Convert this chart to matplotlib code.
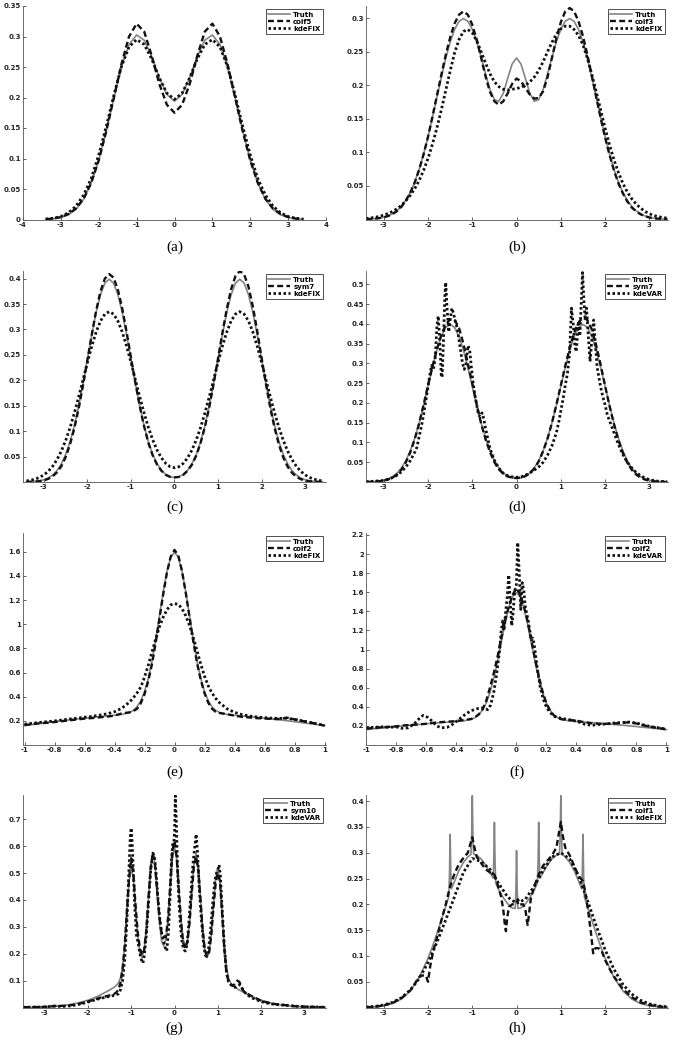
import numpy as np
import matplotlib
matplotlib.use('Agg')
import matplotlib.pyplot as plt
from matplotlib.ticker import FormatStrFormatter


def mirror_y(half):
    # half starts at x=0, the density is symmetric
    return list(half[:0:-1]) + list(half)


def mirror_x(half):
    return [-v for v in half[:0:-1]] + list(half)


# ---------------- (a) ----------------
x_half_a = [0.0, 0.2, 0.4, 0.6, 0.8, 1.0, 1.2, 1.4, 1.6, 1.8, 2.0, 2.2, 2.4, 2.6, 2.8, 3.0, 3.2, 3.4]
truth_half_a = [0.194, 0.205, 0.2325, 0.267, 0.294, 0.3025, 0.287, 0.250, 0.1997, 0.1456,
                0.0972, 0.0593, 0.033, 0.0168, 0.0078, 0.0033, 0.0013, 0.0005]
coif5_half_a = [0.175, 0.188, 0.222, 0.268, 0.308, 0.321, 0.300, 0.255, 0.200, 0.145,
                0.097, 0.060, 0.034, 0.018, 0.009, 0.004, 0.0015, 0.0005]
kdefix_half_a = [0.197, 0.207, 0.232, 0.263, 0.287, 0.295, 0.283, 0.251, 0.204, 0.153,
                 0.106, 0.067, 0.040, 0.022, 0.011, 0.005, 0.002, 0.0008]

# ---------------- (b) ----------------
x_b = [round(v, 1) for v in np.arange(-3.4, 3.45, 0.1)]
truth_half_b = [0.2406, 0.2316, 0.2102, 0.1879, 0.1760, 0.1785, 0.1938, 0.2166, 0.2418, 0.2650,
                0.2834, 0.2953, 0.2993, 0.2951, 0.2830, 0.2641, 0.2396, 0.2114, 0.1815, 0.1515,
                0.1230, 0.0971, 0.0746, 0.0557, 0.0405, 0.0286, 0.0197, 0.0131, 0.0086, 0.0053,
                0.0033, 0.0020, 0.0012, 0.0007, 0.0004]
coif3_b = [0.0005, 0.0008, 0.0013, 0.0021, 0.0033, 0.0052, 0.0082, 0.0125, 0.019, 0.028,
           0.040, 0.055, 0.074, 0.097, 0.123, 0.153, 0.184, 0.215, 0.245, 0.271,
           0.292, 0.305, 0.310, 0.305, 0.290, 0.268, 0.241, 0.213, 0.190, 0.176,
           0.171, 0.176, 0.188, 0.202,
           0.210,
           0.206, 0.196, 0.186, 0.180, 0.181, 0.191, 0.212, 0.241, 0.270, 0.294,
           0.310, 0.315, 0.310, 0.295, 0.273, 0.245, 0.214, 0.182, 0.151, 0.122,
           0.096, 0.073, 0.054, 0.039, 0.027, 0.018, 0.012, 0.0078, 0.0049, 0.003,
           0.0019, 0.0012, 0.0007, 0.0004]
kdefix_b = [0.0015, 0.0022, 0.0032, 0.0046, 0.0065, 0.009, 0.012, 0.016, 0.021, 0.028,
            0.036, 0.046, 0.058, 0.073, 0.091, 0.112, 0.136, 0.163, 0.192, 0.221,
            0.248, 0.268, 0.280, 0.283, 0.278, 0.266, 0.250, 0.233, 0.217, 0.205,
            0.198, 0.194, 0.193, 0.194,
            0.195,
            0.197, 0.200, 0.205, 0.212, 0.222, 0.235, 0.250, 0.264, 0.276, 0.284,
            0.288, 0.288, 0.283, 0.274, 0.260, 0.240, 0.216, 0.190, 0.163, 0.136,
            0.111, 0.089, 0.070, 0.054, 0.041, 0.031, 0.023, 0.017, 0.012, 0.0085,
            0.006, 0.0042, 0.003, 0.002]

# ---------------- (c) / (d) ----------------
x_c = x_b
truth_half_c = [0.0089, 0.0103, 0.0148, 0.0230, 0.0358, 0.0541, 0.0790, 0.1109, 0.1497, 0.1942,
                0.2419, 0.2897, 0.3333, 0.3683, 0.3910, 0.3989, 0.3910, 0.3683, 0.3333, 0.2897,
                0.2419, 0.1942, 0.1497, 0.1109, 0.0790, 0.0540, 0.0355, 0.0224, 0.0136, 0.0079,
                0.0044, 0.0024, 0.0012, 0.0006, 0.0003]
sym7_c = [0.0002, 0.0004, 0.0008, 0.0016, 0.0032, 0.0062, 0.011, 0.019, 0.031, 0.049,
          0.074, 0.106, 0.145, 0.191, 0.240, 0.290, 0.337, 0.375, 0.400, 0.409,
          0.402, 0.378, 0.341, 0.295, 0.245, 0.196, 0.150, 0.110, 0.077, 0.052,
          0.034, 0.022, 0.014, 0.010,
          0.009,
          0.010, 0.014, 0.022, 0.034, 0.052, 0.077, 0.109, 0.148, 0.194, 0.243,
          0.293, 0.340, 0.379, 0.405, 0.415, 0.408, 0.384, 0.345, 0.297, 0.244,
          0.193, 0.146, 0.106, 0.073, 0.048, 0.030, 0.018, 0.010, 0.0056, 0.003,
          0.0015, 0.0007, 0.0003, 0.0001]
kdefix_half_c = [0.0280, 0.0300, 0.0365, 0.0474, 0.0627, 0.0828, 0.1074, 0.1361, 0.1679, 0.2016,
                 0.2354, 0.2673, 0.2950, 0.3166, 0.3303, 0.3350, 0.3303, 0.3166, 0.2950, 0.2673,
                 0.2354, 0.2015, 0.1677, 0.1357, 0.1067, 0.0816, 0.0607, 0.0439, 0.0308, 0.0210,
                 0.0140, 0.0090, 0.0057, 0.0035, 0.0020]
sym7_d = [0.0002, 0.0005, 0.001, 0.002, 0.0035, 0.0065, 0.011, 0.019, 0.031, 0.050,
          0.075, 0.108, 0.148, 0.195, 0.245, 0.292, 0.335, 0.372, 0.398, 0.412,
          0.410, 0.390, 0.350, 0.300, 0.250, 0.196, 0.148, 0.108, 0.076, 0.050,
          0.032, 0.021, 0.014, 0.011,
          0.010,
          0.011, 0.015, 0.022, 0.034, 0.052, 0.078, 0.110, 0.150, 0.196, 0.245,
          0.294, 0.340, 0.378, 0.404, 0.416, 0.410, 0.386, 0.345, 0.296, 0.243,
          0.192, 0.146, 0.106, 0.074, 0.049, 0.031, 0.019, 0.011, 0.0062, 0.0034,
          0.0017, 0.0008, 0.0004, 0.0002]
x_kdevar_d = [-3.4, -3.2, -3.0, -2.9, -2.8, -2.7, -2.6, -2.5, -2.4, -2.3, -2.25, -2.2, -2.15, -2.1,
              -2.05, -2.0, -1.96, -1.92, -1.88, -1.84, -1.8, -1.77, -1.74, -1.7, -1.68, -1.65,
              -1.62, -1.6, -1.57, -1.53, -1.5, -1.46, -1.42, -1.38, -1.34, -1.3, -1.26, -1.22,
              -1.18, -1.14, -1.1, -1.06, -1.02, -0.98, -0.94, -0.9, -0.86, -0.82, -0.78, -0.74,
              -0.7, -0.65, -0.6, -0.5, -0.4, -0.3, -0.2, -0.1, 0.0, 0.1, 0.2, 0.3, 0.4, 0.5,
              0.6, 0.7, 0.8, 0.9, 0.95, 1.0, 1.05, 1.1, 1.15, 1.2, 1.24, 1.28, 1.32, 1.35,
              1.39, 1.43, 1.46, 1.49, 1.52, 1.55, 1.58, 1.62, 1.66, 1.7, 1.74, 1.78, 1.82,
              1.86, 1.9, 1.95, 2.0, 2.05, 2.1, 2.15, 2.2, 2.3, 2.4, 2.5, 2.6, 2.7, 2.8, 2.9,
              3.0, 3.2, 3.4]
kdevar_d = [0.001, 0.002, 0.004, 0.007, 0.011, 0.017, 0.026, 0.038, 0.054, 0.075, 0.088, 0.115,
            0.14, 0.17, 0.205, 0.24, 0.27, 0.295, 0.285, 0.31, 0.39, 0.42, 0.37, 0.27, 0.265,
            0.36, 0.47, 0.505, 0.44, 0.38, 0.41, 0.44, 0.425, 0.405, 0.39, 0.36, 0.33, 0.30,
            0.285, 0.30, 0.345, 0.335, 0.29, 0.25, 0.22, 0.195, 0.17, 0.165, 0.175, 0.16,
            0.135, 0.11, 0.085, 0.055, 0.035, 0.022, 0.016, 0.013, 0.012, 0.013, 0.017, 0.023,
            0.030, 0.038, 0.05, 0.068, 0.092, 0.125, 0.15, 0.18, 0.21, 0.245, 0.275, 0.33,
            0.44, 0.40, 0.34, 0.33, 0.40, 0.37, 0.45, 0.53, 0.46, 0.41, 0.44, 0.37, 0.305,
            0.36, 0.41, 0.35, 0.29, 0.265, 0.24, 0.215, 0.195, 0.17, 0.155, 0.14, 0.125,
            0.095, 0.07, 0.05, 0.036, 0.024, 0.016, 0.01, 0.006, 0.002, 0.001]

# ---------------- (e) / (f) ----------------
x_half_e = [0.0, 0.025, 0.05, 0.075, 0.1, 0.125, 0.15, 0.175, 0.2, 0.225, 0.25, 0.275, 0.3,
            0.35, 0.4, 0.45, 0.5, 0.55, 0.6, 0.65, 0.7, 0.75, 0.8, 0.85, 0.9, 0.95, 1.0]
truth_half_e = [1.596, 1.555, 1.439, 1.269, 1.071, 0.873, 0.695, 0.550, 0.441, 0.365, 0.316,
                0.286, 0.269, 0.253, 0.246, 0.240, 0.235, 0.229, 0.222, 0.215, 0.208, 0.201,
                0.193, 0.185, 0.177, 0.169, 0.161]
coif2_e = [0.165, 0.172, 0.180, 0.184, 0.190, 0.197, 0.204, 0.212, 0.218, 0.223, 0.229, 0.235,
           0.243, 0.262, 0.270, 0.280, 0.300, 0.345, 0.42, 0.53, 0.67, 0.85, 1.05, 1.25, 1.43,
           1.56,
           1.615,
           1.57, 1.44, 1.26, 1.06, 0.86, 0.68, 0.54, 0.43, 0.35, 0.30, 0.275, 0.265, 0.255,
           0.243, 0.233, 0.228, 0.222, 0.220, 0.215, 0.216, 0.226, 0.212, 0.200, 0.188, 0.175,
           0.160]
kdefix_e = [0.172, 0.180, 0.187, 0.193, 0.199, 0.207, 0.215, 0.222, 0.230, 0.237, 0.247, 0.258,
            0.275, 0.305, 0.355, 0.39, 0.43, 0.48, 0.56, 0.66, 0.77, 0.88, 0.98, 1.06, 1.12,
            1.16,
            1.17,
            1.165, 1.13, 1.07, 0.99, 0.89, 0.78, 0.67, 0.57, 0.49, 0.43, 0.385, 0.35, 0.30,
            0.27, 0.252, 0.24, 0.232, 0.226, 0.222, 0.22, 0.222, 0.212, 0.200, 0.188, 0.175,
            0.162]
coif2_f = [0.17, 0.18, 0.185, 0.19, 0.195, 0.205, 0.21, 0.215, 0.222, 0.232, 0.240, 0.245,
           0.25, 0.262, 0.272, 0.29, 0.32, 0.37, 0.46, 0.60, 0.75, 0.92, 1.12, 1.30, 1.45,
           1.57,
           1.64,
           1.58, 1.46, 1.30, 1.10, 0.90, 0.72, 0.56, 0.44, 0.36, 0.31, 0.285, 0.27, 0.262,
           0.255, 0.24, 0.228, 0.222, 0.222, 0.225, 0.232, 0.238, 0.225, 0.205, 0.19, 0.178,
           0.162]
x_kdevar_f = [-1.0, -0.95, -0.9, -0.85, -0.8, -0.76, -0.72, -0.68, -0.65, -0.62, -0.59, -0.56,
              -0.53, -0.5, -0.46, -0.42, -0.38, -0.34, -0.3, -0.26, -0.22, -0.19, -0.17, -0.15,
              -0.13, -0.11, -0.1, -0.09, -0.08, -0.07, -0.06, -0.05, -0.04, -0.03, -0.02, -0.01,
              0.0, 0.01, 0.02, 0.03, 0.04, 0.05, 0.06, 0.08, 0.1, 0.11, 0.12, 0.14, 0.16, 0.18,
              0.2, 0.22, 0.25, 0.3, 0.35, 0.4, 0.45, 0.5, 0.55, 0.6, 0.65, 0.7, 0.75, 0.8, 0.85,
              0.9, 0.95, 1.0]
kdevar_f = [0.18, 0.185, 0.19, 0.185, 0.19, 0.175, 0.18, 0.22, 0.27, 0.31, 0.29, 0.25, 0.20,
            0.18, 0.185, 0.22, 0.27, 0.32, 0.36, 0.38, 0.39, 0.37, 0.42, 0.55, 0.75, 1.0, 1.2,
            1.30, 1.22, 1.40, 1.55, 1.78, 1.50, 1.25, 1.40, 1.62, 1.65, 2.12, 1.80, 1.42, 1.70,
            1.62, 1.45, 1.30, 1.10, 1.12, 1.05, 0.80, 0.60, 0.48, 0.40, 0.35, 0.30, 0.28, 0.265,
            0.25, 0.22, 0.205, 0.215, 0.22, 0.23, 0.235, 0.24, 0.23, 0.21, 0.19, 0.18, 0.165]

# ---------------- (g) ----------------
x_half_g = [0.0, 0.05, 0.1, 0.15, 0.2, 0.25, 0.3, 0.35, 0.4, 0.45, 0.5, 0.55, 0.6, 0.65, 0.7,
            0.75, 0.8, 0.85, 0.9, 0.95, 1.0, 1.05, 1.1, 1.15, 1.2, 1.25, 1.3, 1.35, 1.4, 1.5,
            1.75, 2.0, 2.25, 2.5, 2.75, 3.0, 3.25, 3.5]
truth_half_g = [0.5984, 0.5513, 0.4405, 0.3277, 0.2540, 0.2284, 0.2491, 0.3181, 0.4262, 0.5323,
                0.5750, 0.5235, 0.4086, 0.2919, 0.2146, 0.1856, 0.2033, 0.2694, 0.3751, 0.4790,
                0.5199, 0.4670, 0.3508, 0.2325, 0.1511, 0.1088, 0.0901, 0.0811, 0.0749, 0.0648,
                0.0432, 0.0270, 0.0159, 0.0088, 0.0045, 0.0022, 0.0010, 0.0004]
x_sym10_g = [-3.5, -3.0, -2.75, -2.5, -2.25, -2.0, -1.75, -1.5, -1.4, -1.35, -1.3, -1.25, -1.2,
             -1.15, -1.1, -1.05, -1.0, -0.95, -0.9, -0.85, -0.8, -0.75, -0.7, -0.65, -0.6, -0.55,
             -0.5, -0.45, -0.4, -0.35, -0.3, -0.25, -0.2, -0.15, -0.1, -0.05, 0.0, 0.05, 0.1,
             0.15, 0.2, 0.25, 0.3, 0.35, 0.4, 0.45, 0.5, 0.55, 0.6, 0.65, 0.7, 0.75, 0.8, 0.85,
             0.9, 0.95, 1.0, 1.05, 1.1, 1.15, 1.2, 1.25, 1.3, 1.35, 1.4, 1.45, 1.5, 1.55, 1.6,
             1.75, 2.0, 2.25, 2.5, 2.75, 3.0, 3.5]
sym10_g = [0.001, 0.002, 0.006, 0.006, 0.012, 0.022, 0.035, 0.045, 0.05, 0.055, 0.065, 0.09,
           0.14, 0.23, 0.36, 0.48, 0.555, 0.50, 0.38, 0.28, 0.22, 0.195, 0.215, 0.29, 0.41,
           0.52, 0.575, 0.53, 0.43, 0.34, 0.28, 0.265, 0.26, 0.33, 0.45, 0.58, 0.62, 0.56,
           0.44, 0.32, 0.24, 0.22, 0.245, 0.32, 0.43, 0.53, 0.56, 0.51, 0.40, 0.29, 0.215,
           0.19, 0.205, 0.27, 0.37, 0.46, 0.50, 0.47, 0.35, 0.22, 0.13, 0.095, 0.085, 0.08,
           0.09, 0.10, 0.095, 0.075, 0.06, 0.045, 0.025, 0.014, 0.01, 0.005, 0.003, 0.001]
x_kdevar_g = [-3.5, -3.0, -2.8, -2.6, -2.4, -2.2, -2.0, -1.8, -1.6, -1.4, -1.3, -1.25, -1.2,
              -1.15, -1.1, -1.05, -1.02, -1.0, -0.98, -0.95, -0.92, -0.88, -0.84, -0.8, -0.76,
              -0.73, -0.7, -0.65, -0.6, -0.55, -0.5, -0.46, -0.42, -0.38, -0.34, -0.3, -0.26,
              -0.22, -0.18, -0.14, -0.1, -0.07, -0.04, -0.02, 0.0, 0.02, 0.04, 0.07, 0.1, 0.14,
              0.18, 0.22, 0.25, 0.29, 0.33, 0.38, 0.43, 0.47, 0.5, 0.53, 0.57, 0.62, 0.67, 0.71,
              0.74, 0.78, 0.83, 0.88, 0.93, 0.97, 1.0, 1.03, 1.06, 1.1, 1.15, 1.2, 1.25, 1.3,
              1.4, 1.45, 1.5, 1.55, 1.6, 1.7, 1.8, 2.0, 2.2, 2.4, 2.6, 2.8, 3.0, 3.2, 3.5]
kdevar_g = [0.001, 0.002, 0.005, 0.004, 0.006, 0.012, 0.02, 0.03, 0.038, 0.045, 0.05, 0.065,
            0.10, 0.18, 0.32, 0.52, 0.64, 0.667, 0.62, 0.50, 0.38, 0.27, 0.24, 0.20, 0.175,
            0.165, 0.19, 0.27, 0.39, 0.51, 0.574, 0.56, 0.49, 0.40, 0.33, 0.28, 0.25, 0.225,
            0.21, 0.28, 0.42, 0.55, 0.61, 0.60, 0.65, 0.787, 0.70, 0.52, 0.40, 0.30, 0.235,
            0.215, 0.21, 0.235, 0.31, 0.43, 0.54, 0.60, 0.644, 0.58, 0.45, 0.33, 0.24, 0.195,
            0.19, 0.21, 0.28, 0.38, 0.47, 0.50, 0.51, 0.53, 0.49, 0.37, 0.23, 0.13, 0.095,
            0.085, 0.075, 0.08, 0.085, 0.075, 0.06, 0.045, 0.035, 0.022, 0.014, 0.01, 0.008,
            0.005, 0.003, 0.002, 0.001]

# ---------------- (h) ----------------
x_half_h = [0.0, 0.015, 0.03, 0.1, 0.2, 0.3, 0.4, 0.47, 0.485, 0.5, 0.515, 0.53, 0.6, 0.7, 0.8,
            0.9, 0.97, 0.985, 1.0, 1.015, 1.03, 1.1, 1.2, 1.3, 1.4, 1.47, 1.485, 1.5, 1.515,
            1.53, 1.6, 1.7, 1.8, 1.9, 2.0, 2.2, 2.4, 2.6, 2.8, 3.0, 3.2, 3.4]
truth_half_h = [0.304, 0.227, 0.192, 0.1931, 0.2009, 0.2129, 0.2279, 0.241, 0.279, 0.359, 0.284,
                0.251, 0.2617, 0.2764, 0.2881, 0.2950, 0.2976, 0.333, 0.4105, 0.333, 0.297,
                0.2920, 0.2813, 0.2658, 0.2450, 0.230, 0.262, 0.3356, 0.255, 0.215, 0.1957,
                0.1691, 0.1427, 0.1179, 0.0953, 0.0581, 0.0323, 0.0165, 0.0076, 0.0033, 0.0013,
                0.0005]
x_coif1_h = [-3.4, -3.2, -3.0, -2.8, -2.6, -2.4, -2.3, -2.22, -2.15, -2.05, -2.0, -1.95, -1.88,
             -1.8, -1.7, -1.6, -1.5, -1.4, -1.3, -1.2, -1.1, -1.05, -1.0, -0.95, -0.9, -0.8,
             -0.7, -0.6, -0.5, -0.45, -0.4, -0.35, -0.3, -0.27, -0.24, -0.21, -0.17, -0.1, -0.05,
             0.0, 0.03, 0.08, 0.15, 0.2, 0.23, 0.25, 0.28, 0.32, 0.4, 0.5, 0.6, 0.7, 0.8, 0.9,
             0.95, 1.0, 1.05, 1.1, 1.2, 1.3, 1.4, 1.5, 1.55, 1.62, 1.68, 1.73, 1.78, 1.85, 1.92,
             2.0, 2.1, 2.2, 2.4, 2.6, 2.8, 3.0, 3.2, 3.4]
coif1_h = [0.0005, 0.0015, 0.004, 0.009, 0.018, 0.033, 0.045, 0.058, 0.062, 0.062, 0.05, 0.08,
           0.11, 0.135, 0.168, 0.20, 0.235, 0.26, 0.278, 0.29, 0.30, 0.315, 0.33, 0.31, 0.292,
           0.28, 0.268, 0.262, 0.258, 0.245, 0.23, 0.215, 0.19, 0.165, 0.148, 0.175, 0.195,
           0.2, 0.2, 0.205, 0.21, 0.2, 0.2, 0.19, 0.17, 0.16, 0.18, 0.21, 0.235, 0.258, 0.275,
           0.285, 0.295, 0.31, 0.335, 0.36, 0.33, 0.31, 0.295, 0.275, 0.255, 0.245, 0.225,
           0.185, 0.145, 0.105, 0.115, 0.115, 0.11, 0.092, 0.075, 0.06, 0.036, 0.02, 0.01,
           0.005, 0.002, 0.0008]
x_kdefix_h = [round(v, 1) for v in np.arange(-3.4, 3.45, 0.2)]
kdefix_h = [0.001, 0.002, 0.005, 0.010, 0.019, 0.034, 0.056, 0.087, 0.126, 0.170, 0.215, 0.262,
            0.289, 0.283, 0.268, 0.240, 0.214, 0.202, 0.210, 0.235, 0.266, 0.292, 0.300, 0.288,
            0.255, 0.208, 0.158, 0.112, 0.074, 0.045, 0.026, 0.014, 0.007, 0.003, 0.0015]

GRAY = '#858585'
INK = '#111111'
DASH = (0, (2.5, 1.4))
DOT = (0, (0.9, 0.9))


def panel(ax, truth, wav, kde, names, xlim, ylim, xticks, yticks):
    ax.plot(truth[0], truth[1], color=GRAY, lw=1.2, label='Truth')
    ax.plot(wav[0], wav[1], color=INK, lw=1.7, ls=DASH, label=names[0])
    ax.plot(kde[0], kde[1], color=INK, lw=2.0, ls=DOT, label=names[1])
    ax.set_xlim(*xlim)
    ax.set_ylim(*ylim)
    ax.set_xticks(xticks)
    ax.set_yticks(yticks)
    ax.xaxis.set_major_formatter(FormatStrFormatter('%g'))
    ax.yaxis.set_major_formatter(FormatStrFormatter('%g'))
    for s in ('top', 'right'):
        ax.spines[s].set_visible(False)
    for s in ('left', 'bottom'):
        ax.spines[s].set_linewidth(0.6)
        ax.spines[s].set_color('#555555')
    ax.tick_params(direction='in', length=2.5, width=0.5, pad=1.5, labelsize=5,
                   colors='#222222')
    for lab in ax.get_xticklabels() + ax.get_yticklabels():
        lab.set_fontweight('bold')
    leg = ax.legend(loc='upper right', frameon=True, fancybox=False,
                    framealpha=1, borderpad=0.3, labelspacing=0.15, handlelength=3.2,
                    handletextpad=0.4, borderaxespad=0.5, prop={'weight': 'bold', 'size': 5})
    leg.get_frame().set_linewidth(0.6)
    leg.get_frame().set_edgecolor('#333333')


fig = plt.figure(figsize=(6.76, 10.5), dpi=100)
W, H = 676.0, 1050.0
cols = [(23, 326), (366, 668)]
rows = [(6, 219.5), (271, 482), (533, 745), (795, 1007.5)]


def make_ax(r, c):
    x0, x1 = cols[c]
    t, b = rows[r]
    return fig.add_axes([x0 / W, 1 - b / H, (x1 - x0) / W, (b - t) / H])


ticks3 = [-3, -2, -1, 0, 1, 2, 3]
ticks_e = [-1, -0.8, -0.6, -0.4, -0.2, 0, 0.2, 0.4, 0.6, 0.8, 1]

ax = make_ax(0, 0)
panel(ax, (mirror_x(x_half_a), mirror_y(truth_half_a)),
      (mirror_x(x_half_a), mirror_y(coif5_half_a)),
      (mirror_x(x_half_a), mirror_y(kdefix_half_a)),
      ('coif5', 'kdeFIX'), (-4, 4), (0, 0.35), [-4, -3, -2, -1, 0, 1, 2, 3, 4],
      [0, 0.05, 0.1, 0.15, 0.2, 0.25, 0.3, 0.35])

ax = make_ax(0, 1)
panel(ax, (x_b, mirror_y(truth_half_b)), (x_b, coif3_b), (x_b, kdefix_b),
      ('coif3', 'kdeFIX'), (-3.4, 3.42), (0, 0.318), ticks3,
      [0.05, 0.1, 0.15, 0.2, 0.25, 0.3])

ax = make_ax(1, 0)
panel(ax, (x_c, mirror_y(truth_half_c)), (x_c, sym7_c), (x_c, mirror_y(kdefix_half_c)),
      ('sym7', 'kdeFIX'), (-3.48, 3.48), (0, 0.415), ticks3,
      [0.05, 0.1, 0.15, 0.2, 0.25, 0.3, 0.35, 0.4])

ax = make_ax(1, 1)
panel(ax, (x_c, mirror_y(truth_half_c)), (x_c, sym7_d), (x_kdevar_d, kdevar_d),
      ('sym7', 'kdeVAR'), (-3.4, 3.42), (0, 0.534), ticks3,
      [0.05, 0.1, 0.15, 0.2, 0.25, 0.3, 0.35, 0.4, 0.45, 0.5])

x_e = mirror_x(x_half_e)
ax = make_ax(2, 0)
panel(ax, (x_e, mirror_y(truth_half_e)), (x_e, coif2_e), (x_e, kdefix_e),
      ('coif2', 'kdeFIX'), (-1.01, 1.01), (0, 1.755), ticks_e,
      [0.2, 0.4, 0.6, 0.8, 1, 1.2, 1.4, 1.6])

ax = make_ax(2, 1)
panel(ax, (x_e, mirror_y(truth_half_e)), (x_e, coif2_f), (x_kdevar_f, kdevar_f),
      ('coif2', 'kdeVAR'), (-1.0, 1.01), (0, 2.22), ticks_e,
      [0.2, 0.4, 0.6, 0.8, 1, 1.2, 1.4, 1.6, 1.8, 2, 2.2])

ax = make_ax(3, 0)
panel(ax, (mirror_x(x_half_g), mirror_y(truth_half_g)), (x_sym10_g, sym10_g),
      (x_kdevar_g, kdevar_g), ('sym10', 'kdeVAR'), (-3.5, 3.5), (0, 0.79), ticks3,
      [0.1, 0.2, 0.3, 0.4, 0.5, 0.6, 0.7])

ax = make_ax(3, 1)
panel(ax, (mirror_x(x_half_h), mirror_y(truth_half_h)), (x_coif1_h, coif1_h),
      (x_kdefix_h, kdefix_h), ('coif1', 'kdeFIX'), (-3.4, 3.42), (0, 0.412), ticks3,
      [0.05, 0.1, 0.15, 0.2, 0.25, 0.3, 0.35, 0.4])

labels = ['(a)', '(b)', '(c)', '(d)', '(e)', '(f)', '(g)', '(h)']
label_y = [247, 507, 772, 1028]
for i, lab in enumerate(labels):
    r, c = divmod(i, 2)
    xc = (cols[c][0] + cols[c][1]) / 2
    fig.text(xc / W, 1 - label_y[r] / H, lab, ha='center', va='center',
             fontsize=11, family='Liberation Serif')

fig.savefig('out.png', dpi=100)
